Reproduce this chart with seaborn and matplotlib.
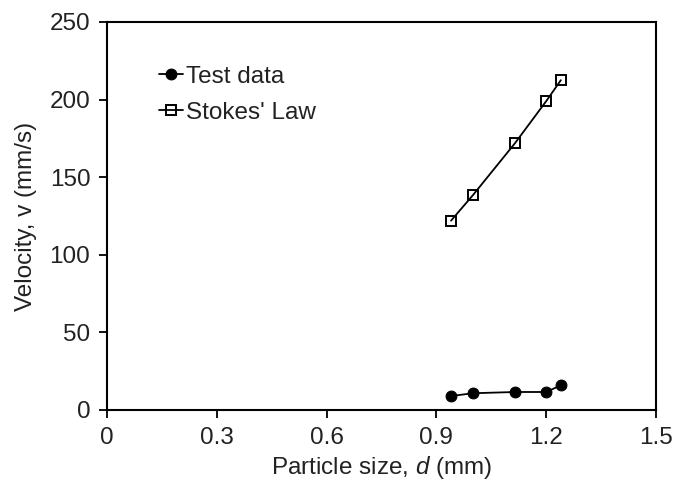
import matplotlib
matplotlib.use("Agg")
import matplotlib.pyplot as plt
import seaborn as sns
import pandas as pd

d_test = [0.94, 1.00, 1.115, 1.20, 1.24]
v_test = [9.0, 10.8, 11.6, 11.6, 15.9]
d_stokes = [0.94, 1.00, 1.115, 1.20, 1.24]
v_stokes = [122.0, 138.5, 172.0, 199.0, 212.5]
x_ticks = [0, 0.3, 0.6, 0.9, 1.2, 1.5]
x_tick_labels = ["0", "0.3", "0.6", "0.9", "1.2", "1.5"]
y_ticks = [0, 50, 100, 150, 200, 250]

sns.set_style("ticks")
plt.rcParams['font.family'] = ['Liberation Sans', 'DejaVu Sans']
plt.rcParams['mathtext.fontset'] = 'custom'
plt.rcParams['mathtext.it'] = 'Liberation Sans:italic'
plt.rcParams['mathtext.rm'] = 'Liberation Sans'

FS = 17.5
fig = plt.figure(figsize=(6.78, 4.96), dpi=100)
ax = fig.add_axes([107/678, 1 - 410/496, (656-107)/678, (410-22)/496])

df_t = pd.DataFrame({"d": d_test, "v": v_test})
df_s = pd.DataFrame({"d": d_stokes, "v": v_stokes})
sns.lineplot(data=df_t, x="d", y="v", ax=ax, color="black", marker="o",
             markersize=7.8, markeredgecolor="black", linewidth=1.3, label="Test data")
sns.lineplot(data=df_s, x="d", y="v", ax=ax, color="black", marker="s",
             markersize=7.2, markerfacecolor="none", markeredgecolor="black",
             markeredgewidth=1.4, linewidth=1.3, label="Stokes' Law")

ax.set_xlim(0, 1.5)
ax.set_ylim(0, 250)
ax.set_xticks(x_ticks)
ax.set_xticklabels(x_tick_labels)
ax.set_yticks(y_ticks)
ax.tick_params(axis="both", labelsize=FS, direction="out", length=6, width=1.3,
               colors="black", labelcolor="#222222", pad=6)
for s in ["left", "bottom", "top", "right"]:
    ax.spines[s].set_visible(True)
    ax.spines[s].set_linewidth(1.5)
    ax.spines[s].set_color("black")
ax.set_xlabel("Particle size, $d$ (mm)", fontsize=FS, labelpad=4, color="#222222")
ax.set_ylabel("Velocity, v (mm/s)", fontsize=FS, labelpad=9, color="#222222")

leg = ax.legend(loc="upper left", bbox_to_anchor=(0.095, 0.887), frameon=False,
                fontsize=FS, handlelength=1.0, handletextpad=0.1, labelspacing=0.57,
                borderpad=0, borderaxespad=0, labelcolor="#222222")

fig.savefig("out.png", dpi=100)
